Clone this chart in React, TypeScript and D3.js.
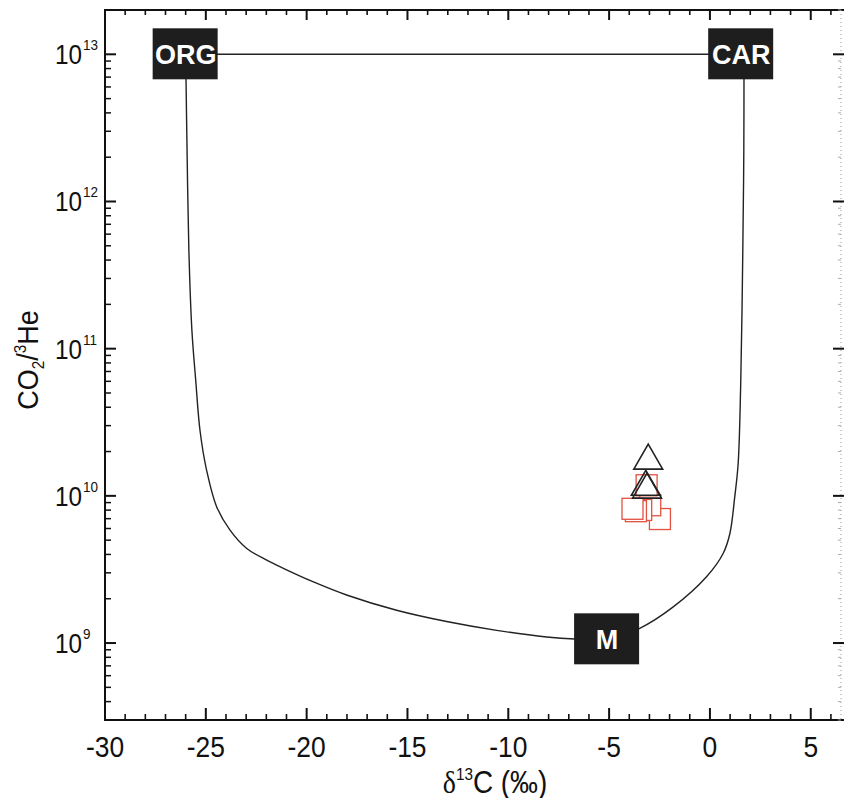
import React from "react";
import * as d3 from "d3";

// axis ticks
const xMajorTicks = [-30, -25, -20, -15, -10, -5, 0, 5];
const yDecades = [9, 10, 11, 12, 13];

// M - ORG mixing curve
const orgMixDelta = [-26.0, -25.93, -25.84, -25.69, -25.5, -25.29, -24.96, -24.46, -23.8, -22.97, -21.98, -21.18, -19.69, -18.02, -15.54, -13.06, -10.58, -8.1, -6.7, -5.1];
const orgMixRatio = [1e13, 2.21e12, 4.63e11, 1.33e11, 6.08e10, 2.79e10, 1.49e10, 8.41e9, 5.85e9, 4.39e9, 3.66e9, 3.23e9, 2.61e9, 2.12e9, 1.67e9, 1.40e9, 1.22e9, 1.10e9, 1.065e9, 1.06e9];

// M - CAR mixing curve
const carMixDelta = [-5.1, -3.48, -1.82, -0.17, 0.655, 0.99, 1.23, 1.4, 1.53, 1.63, 1.68, 1.69];
const carMixRatio = [1.06e9, 1.26e9, 1.76e9, 2.82e9, 4.06e9, 5.55e9, 9.84e9, 1.66e10, 6.08e10, 4.63e11, 2.21e12, 1e13];

// ORG - CAR line
const orgCarDelta = [-26.0, 1.69];
const orgCarRatio = [1e13, 1e13];

// end members
const endNames = ["ORG", "CAR", "M"];
const endDelta = [-26.0, 1.55, -5.1];
const endRatio = [1e13, 1e13, 1.06e9];

// samples
const triDelta = [-3.06, -3.18, -3.12];
const triRatio = [1.73e10, 1.15e10, 1.1e10];
const sqDelta = [-2.48, -2.96, -3.14, -3.41, -3.67, -3.84];
const sqRatio = [6.96e9, 8.63e9, 1.18e10, 8.02e9, 7.87e9, 8.17e9];

const W = 844;
const H = 798;
const left = 105;
const right = 841;
const top = 10;
const bottom = 720;

export default function App() {
  const x = d3.scaleLinear().domain([-30, 6.5]).range([left, right]);
  const y = d3.scaleLog().domain([3e8, 2e13]).range([bottom, top]);

  const line = d3
    .line<[number, number]>()
    .x((d) => x(d[0]))
    .y((d) => y(d[1]))
    .curve(d3.curveCatmullRom.alpha(0.5));

  const orgPts = orgMixDelta.map((d, i) => [d, orgMixRatio[i]] as [number, number]);
  const carPts = carMixDelta.map((d, i) => [d, carMixRatio[i]] as [number, number]);
  const topPts = orgCarDelta.map((d, i) => [d, orgCarRatio[i]] as [number, number]);

  const xMinor = d3.range(-29, 7).filter((v) => !xMajorTicks.includes(v));
  const yMinor: number[] = [];
  for (let n = 8; n <= 13; n++) {
    for (let k = 2; k <= 9; k++) {
      const v = k * Math.pow(10, n);
      if (v >= 3e8 && v <= 2e13) yMinor.push(v);
    }
  }

  const tri = d3.symbol().type(d3.symbolTriangle).size(360);
  const sqSize = 21;
  const font = "'Liberation Sans', Arial, sans-serif";

  return (
    <svg width={W} height={H} style={{ position: "absolute", left: 0, top: 0, background: "#fff" }}>
      <rect width={W} height={H} fill="#fff" />

      {/* curves */}
      <path d={line(orgPts) || ""} fill="none" stroke="#222" strokeWidth={1.4} />
      <path d={line(carPts) || ""} fill="none" stroke="#222" strokeWidth={1.4} />
      <path d={d3.line<[number, number]>().x((d) => x(d[0])).y((d) => y(d[1]))(topPts) || ""} fill="none" stroke="#222" strokeWidth={1.4} />

      {/* squares */}
      {sqDelta.map((d, i) => (
        <rect
          key={"s" + i}
          x={x(d) - sqSize / 2}
          y={y(sqRatio[i]) - sqSize / 2}
          width={sqSize}
          height={sqSize}
          fill="#fff"
          stroke="#e2513f"
          strokeWidth={1.3}
        />
      ))}

      {/* triangles */}
      {triDelta.map((d, i) => (
        <path
          key={"t" + i}
          d={tri() || ""}
          transform={`translate(${x(d)},${y(triRatio[i])})`}
          fill="none"
          stroke="#222"
          strokeWidth={1.6}
        />
      ))}

      {/* end member labels */}
      {endNames.map((name, i) => (
        <g key={name} transform={`translate(${x(endDelta[i])},${y(endRatio[i])})`}>
          <rect x={-33} y={-26} width={65} height={51} fill="#1e1e1e" />
          <text x={0} y={10} textAnchor="middle" fill="#fff" fontFamily={font} fontWeight="bold" fontSize={27}>
            {name}
          </text>
        </g>
      ))}

      {/* axes frame */}
      <line x1={left} x2={left} y1={top} y2={bottom + 1} stroke="#111" strokeWidth={2} />
      <line x1={left - 1} x2={W} y1={bottom} y2={bottom} stroke="#111" strokeWidth={2} />
      <line x1={left - 1} x2={W} y1={top} y2={top} stroke="#111" strokeWidth={2} />
      <line x1={right} x2={right} y1={top} y2={bottom} stroke="#999" strokeWidth={1} strokeDasharray="1,3" />

      {/* x ticks bottom + top */}
      {xMajorTicks.map((v) => (
        <g key={"xm" + v}>
          <line x1={x(v)} x2={x(v)} y1={bottom} y2={bottom - 12} stroke="#111" strokeWidth={2} />
          <line x1={x(v)} x2={x(v)} y1={top} y2={top + 10} stroke="#111" strokeWidth={2} />
          <text
            transform={`translate(${x(v)},${bottom + 37}) scale(0.88,1)`}
            textAnchor="middle"
            fontFamily={font}
            fontSize={30}
            fill="#111"
          >
            {v}
          </text>
        </g>
      ))}
      {xMinor.map((v) => (
        <g key={"xn" + v}>
          <line x1={x(v)} x2={x(v)} y1={bottom} y2={bottom - 6} stroke="#111" strokeWidth={1.6} />
          <line x1={x(v)} x2={x(v)} y1={top} y2={top + 5} stroke="#111" strokeWidth={1.6} />
        </g>
      ))}

      {/* y ticks left + right */}
      {yDecades.map((n) => {
        const yy = y(Math.pow(10, n));
        return (
          <g key={"ym" + n}>
            <line x1={left} x2={left + 11} y1={yy} y2={yy} stroke="#111" strokeWidth={2} />
            <line x1={right + 3} x2={right - 8} y1={yy} y2={yy} stroke="#111" strokeWidth={2} />
            <text transform={`translate(82,${yy + 10}) scale(0.9,1)`} textAnchor="end" fontFamily={font} fontSize={27} fill="#111">
              10
            </text>
            <text transform={`translate(83,${yy - 4}) scale(0.9,1)`} fontFamily={font} fontSize={15} fill="#111">
              {n}
            </text>
          </g>
        );
      })}
      {yMinor.map((v) => (
        <g key={"yn" + v}>
          <line x1={left} x2={left + 6} y1={y(v)} y2={y(v)} stroke="#111" strokeWidth={1.5} />
          <line x1={right} x2={right - 3} y1={y(v)} y2={y(v)} stroke="#aaa" strokeWidth={1} />
        </g>
      ))}

      {/* axis titles */}
      <text transform={`translate(495,793) scale(0.9,1)`} textAnchor="middle" fontFamily={font} fontSize={31} fill="#111">
        <tspan fontFamily="'Liberation Serif', serif">δ</tspan>
        <tspan fontSize={17} dy={-13}>13</tspan>
        <tspan dy={13}>C (‰)</tspan>
      </text>
      <text transform={`translate(38,360) rotate(-90) scale(0.9,1)`} textAnchor="middle" fontFamily={font} fontSize={30} fill="#111">
        CO
        <tspan fontSize={17} dy={6}>2</tspan>
        <tspan dy={-6}>/</tspan>
        <tspan fontSize={17} dy={-12}>3</tspan>
        <tspan dy={12}>He</tspan>
      </text>
    </svg>
  );
}
